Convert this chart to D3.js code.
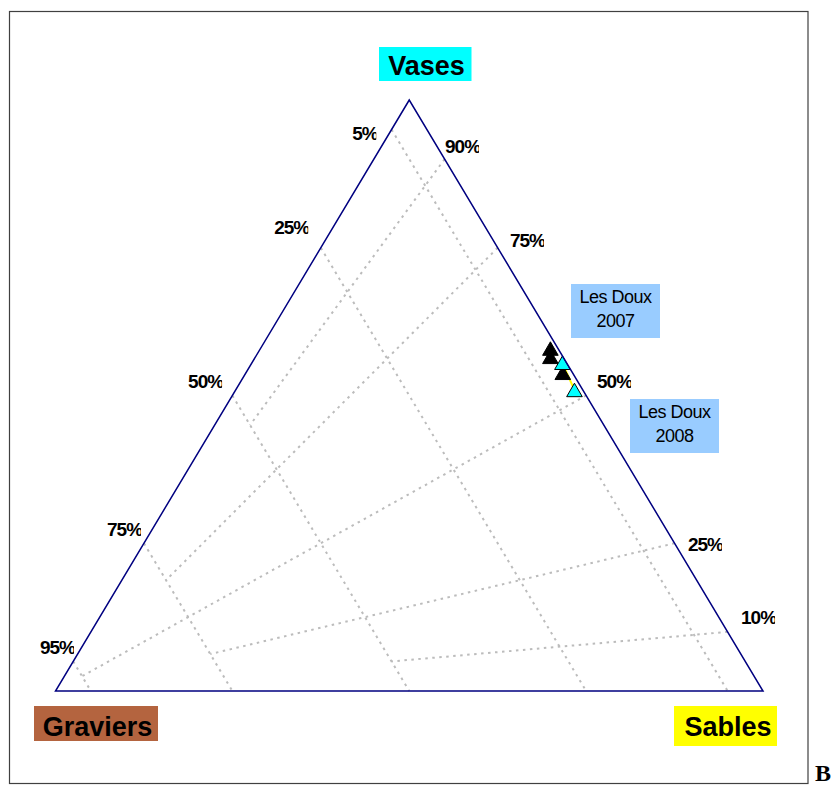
<!DOCTYPE html>
<html><head><meta charset="utf-8">
<script src="https://cdn.jsdelivr.net/npm/d3@7"></script>
<style>body{margin:0;background:#fff}svg{display:block}</style>
</head><body>
<script>
// ---- data ----
const graviersTicks = [5, 25, 50, 75, 95];
const graviersTickLabels = ["5%", "25%", "50%", "75%", "95%"];
const vasesRatioTicks = [90, 75, 50, 25, 10];
const vasesRatioTickLabels = ["90%", "75%", "50%", "25%", "10%"];
const rayEndGraviers = [50, 75, 95, 75, 50];
const apexLabels = ["Vases", "Graviers", "Sables"];
const seriesNames = ["Les Doux 2007", "Les Doux 2008"];
const vases2007 = [57.9, 56.5, 53.8];
const sables2007 = [41.0, 41.7, 44.8];
const graviers2007 = [1.1, 1.8, 1.4];
const vases2008 = [55.5, 50.9];
const sables2008 = [43.9, 47.9];
const graviers2008 = [0.6, 1.2];

// ---- layout ----
const W = 836, H = 789;
const FONT = "'Liberation Sans', Arial, sans-serif";
const leftLabelOffsets = [[-39.3, 3.5], [-46.6, -20.8], [-44.3, -14], [-36.9, -14.3], [-33.2, -14.5]];
const rightLabelOffsets = [[0.4, -13.1], [12.3, -7.8], [10.9, -14], [13.4, 1.3], [13.4, -14.4]];

const svg = d3.select("body").append("svg").attr("width", W).attr("height", H);
const defs = svg.append("defs");

const x = d3.scaleLinear().domain([0, 100]).range([55.5, 763]);
const y = d3.scaleLinear().domain([0, 100]).range([691, 100]);
function pt(v, s, g) {
  const t = v + s + g; v = v * 100 / t; s = s * 100 / t;
  return [x(s + v / 2), y(v)];
}

// frame
svg.append("rect").attr("x", 9.5).attr("y", 11.5).attr("width", 798.5).attr("height", 772)
  .attr("fill", "none").attr("stroke", "#404040").attr("stroke-width", 1.2);

const grid = svg.append("g").attr("fill", "none").attr("stroke", "#bcbcbc")
  .attr("stroke-width", 2).attr("stroke-dasharray", "2.5,4.5");
const line = d3.line();
// constant graviers lines
graviersTicks.forEach(g => {
  grid.append("path").attr("d", line([pt(100 - g, 0, g), pt(0, 100 - g, g)]));
});
// vases/(vases+sables) rays
vasesRatioTicks.forEach((r, i) => {
  const ge = rayEndGraviers[i];
  const f = 1 - ge / 100;
  grid.append("path").attr("d", line([pt(r, 100 - r, 0), pt(r * f, (100 - r) * f, ge)]));
});

// tick labels (clipped like the original text boxes)
function tickLabel(txt, px, py, idx, side) {
  const id = "clip" + side + idx;
  const w = txt.length === 2 ? 24 : 34;
  defs.append("clipPath").attr("id", id).append("rect")
    .attr("x", px - 2).attr("y", py - 12).attr("width", w + 2).attr("height", 24);
  svg.append("text").attr("x", px).attr("y", py + 6.8).attr("clip-path", `url(#${id})`)
    .attr("font-family", FONT).attr("font-weight", "bold").attr("font-size", 19)
    .attr("letter-spacing", -1).attr("fill", "#000").text(txt);
}
graviersTicks.forEach((g, i) => {
  const p = pt(100 - g, 0, g);
  tickLabel(graviersTickLabels[i], p[0] + leftLabelOffsets[i][0], p[1] + leftLabelOffsets[i][1], i, "L");
});
vasesRatioTicks.forEach((r, i) => {
  const p = pt(r, 100 - r, 0);
  tickLabel(vasesRatioTickLabels[i], p[0] + rightLabelOffsets[i][0], p[1] + rightLabelOffsets[i][1], i, "R");
});

// data
const d2007 = vases2007.map((v, i) => pt(v, sables2007[i], graviers2007[i]));
const d2008 = vases2008.map((v, i) => pt(v, sables2008[i], graviers2008[i]));
svg.append("path").attr("d", line(d2008)).attr("fill", "none").attr("stroke", "#ffff00").attr("stroke-width", 2);
const tri = "M0,-7L7.8,6.5L-7.8,6.5Z";
svg.append("g").selectAll("path").data(d2007).join("path")
  .attr("d", tri).attr("transform", d => `translate(${d[0]},${d[1]})`)
  .attr("fill", "#000").attr("stroke", "#000").attr("stroke-width", 1);
svg.append("g").selectAll("path").data(d2008).join("path")
  .attr("d", tri).attr("transform", d => `translate(${d[0]},${d[1]})`)
  .attr("fill", "#00ffff").attr("stroke", "#000").attr("stroke-width", 1);

// triangle outline
svg.append("path").attr("d", line([pt(100, 0, 0), pt(0, 0, 100), pt(0, 100, 0)]) + "Z")
  .attr("fill", "none").attr("stroke", "#000080").attr("stroke-width", 1.5);

// apex labels
const apexBoxes = [
  {x: 379, y: 47, w: 92.5, h: 34, fill: "#00ffff", tx: 426.5, ty: 75},
  {x: 34, y: 706, w: 124, h: 35, fill: "#b4643f", tx: 97.5, ty: 735.5},
  {x: 674, y: 706, w: 103, h: 40, fill: "#ffff00", tx: 728, ty: 736}
];
apexLabels.forEach((t, i) => {
  const b = apexBoxes[i];
  svg.append("rect").attr("x", b.x).attr("y", b.y).attr("width", b.w).attr("height", b.h).attr("fill", b.fill);
  svg.append("text").attr("x", b.tx).attr("y", b.ty).attr("text-anchor", "middle")
    .attr("font-family", FONT).attr("font-weight", "bold").attr("font-size", 27).attr("fill", "#000").text(t);
});

// series label boxes
const seriesBoxes = [
  {x: 571, y: 284, w: 89, h: 54},
  {x: 630, y: 399, w: 89, h: 54}
];
seriesNames.forEach((n, i) => {
  const b = seriesBoxes[i];
  const parts = [n.slice(0, n.lastIndexOf(" ")), n.slice(n.lastIndexOf(" ") + 1)];
  svg.append("rect").attr("x", b.x).attr("y", b.y).attr("width", b.w).attr("height", b.h).attr("fill", "#99ccff");
  parts.forEach((p, j) => {
    svg.append("text").attr("x", b.x + b.w / 2).attr("y", b.y + 19 + j * 24).attr("text-anchor", "middle")
      .attr("font-family", FONT).attr("font-size", 18).attr("letter-spacing", -0.5).attr("fill", "#000").text(p);
  });
});

// corner letter
svg.append("text").attr("x", 815).attr("y", 781).attr("font-family", "'Liberation Serif', 'Times New Roman', serif")
  .attr("font-weight", "bold").attr("font-size", 24).attr("fill", "#000").text("B");
</script>
</body></html>
